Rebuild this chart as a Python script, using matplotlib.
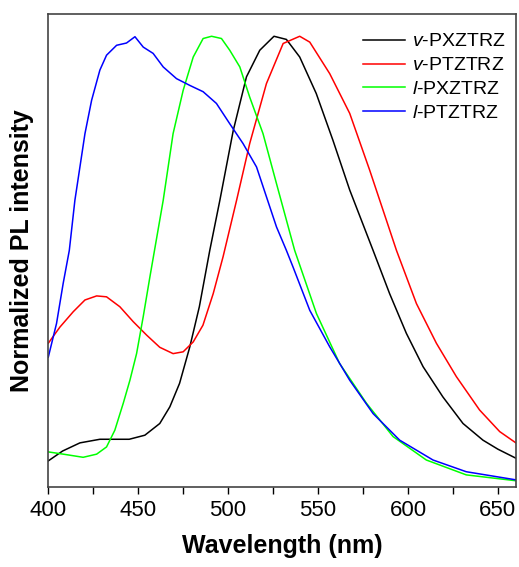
import numpy as np
import matplotlib.pyplot as plt

plt.rcParams['font.family'] = ['Liberation Sans', 'DejaVu Sans']
plt.rcParams['mathtext.fontset'] = 'custom'
plt.rcParams['mathtext.rm'] = 'Liberation Sans'
plt.rcParams['mathtext.it'] = 'Liberation Sans:italic'

# v-PXZTRZ (black)
wl_vpx = [400, 408, 417.6, 428.7, 445, 453.7, 462, 467.6, 473, 478.7, 484, 489.8, 495.4,
          502.8, 510.2, 517.6, 525.5, 532.4, 539.8, 549, 558.3, 567.6, 580.6, 589.8,
          599.1, 608.4, 619.4, 630.6, 641.7, 650, 660]
pl_vpx = [0.058, 0.080, 0.098, 0.106, 0.106, 0.115, 0.141, 0.178, 0.230, 0.311, 0.400, 0.525,
          0.636, 0.790, 0.910, 0.969, 1.000, 0.993, 0.954, 0.873, 0.769, 0.659, 0.525, 0.429,
          0.341, 0.267, 0.200, 0.141, 0.104, 0.084, 0.064]

# v-PTZTRZ (red)
wl_vpt = [400, 406.5, 413.9, 420.4, 426.9, 432.4, 439.8, 447.2, 454.7, 462, 469.4, 475,
          480.6, 486, 491.7, 497.2, 504.7, 512, 521.3, 530.6, 539.8, 545.4, 556.5, 567.6,
          578.7, 588, 593.6, 604.7, 615.8, 626.9, 639.8, 651, 660]
pl_vpt = [0.319, 0.355, 0.389, 0.415, 0.424, 0.422, 0.400, 0.367, 0.337, 0.310, 0.296, 0.300,
          0.322, 0.359, 0.429, 0.511, 0.636, 0.762, 0.895, 0.984, 1.000, 0.987, 0.917, 0.829,
          0.703, 0.592, 0.525, 0.407, 0.319, 0.245, 0.171, 0.123, 0.098]

# l-PXZTRZ (green)
wl_lpx = [400, 408.3, 419.4, 426.9, 432.4, 437, 441.7, 445.4, 449.1, 452.8, 456.5, 463.9,
          469.4, 475, 480.6, 486.1, 490.8, 496.3, 500.9, 506.5, 512, 519.4, 526.9, 537,
          549.1, 562, 576.9, 591.7, 610.2, 632.4, 660]
pl_lpx = [0.078, 0.073, 0.066, 0.073, 0.089, 0.126, 0.186, 0.237, 0.296, 0.378, 0.466, 0.636,
          0.784, 0.880, 0.954, 0.995, 1.000, 0.995, 0.969, 0.932, 0.865, 0.784, 0.673, 0.525,
          0.385, 0.274, 0.186, 0.112, 0.060, 0.027, 0.014]

# l-PTZTRZ (blue)
wl_lpt = [400, 404.6, 408.3, 411.7, 414.8, 417.6, 420.4, 424.1, 428.7, 432.4, 438, 443.5,
          448.2, 452.8, 458.3, 463.9, 471.3, 478.7, 486.1, 493.5, 500.9, 508.3, 515.8,
          521.3, 526.9, 532.4, 536.1, 545.4, 556.5, 567.6, 580.6, 595.4, 613.9, 632.4, 660]
pl_lpt = [0.288, 0.363, 0.452, 0.525, 0.636, 0.710, 0.784, 0.858, 0.925, 0.958, 0.980, 0.985,
          0.999, 0.976, 0.962, 0.932, 0.906, 0.891, 0.877, 0.851, 0.806, 0.762, 0.710,
          0.644, 0.577, 0.525, 0.488, 0.392, 0.311, 0.237, 0.163, 0.104, 0.060, 0.034, 0.016]

labels = [r'$\mathit{v}$-PXZTRZ', r'$\mathit{v}$-PTZTRZ', r'$\mathit{l}$-PXZTRZ', r'$\mathit{l}$-PTZTRZ']

fig = plt.figure(figsize=(5.19, 5.67), dpi=100)
ax = fig.add_axes([0.093, 0.141, 0.901, 0.834])

ax.plot(wl_vpx, pl_vpx, color='black', lw=1.1, label=labels[0])
ax.plot(wl_vpt, pl_vpt, color='#ff0000', lw=1.1, label=labels[1])
ax.plot(wl_lpx, pl_lpx, color='#00ff00', lw=1.1, label=labels[2])
ax.plot(wl_lpt, pl_lpt, color='#0000ff', lw=1.1, label=labels[3])

ax.set_xlim(400, 660)
ax.set_ylim(0, 1.049)
ax.set_xticks([400, 450, 500, 550, 600, 650])
ax.set_xticks(np.arange(425, 660, 50), minor=True)
ax.set_yticks([])
ax.tick_params(axis='x', which='both', direction='out', length=5, width=1, labelsize=16, pad=4)
for s in ax.spines.values():
    s.set_linewidth(1.2)
    s.set_color('#444444')

ax.set_xlabel('Wavelength (nm)', fontsize=18, fontweight='bold', labelpad=10)
ax.set_ylabel('Normalized PL intensity', fontsize=18, fontweight='bold', labelpad=10)

ax.legend(loc='upper left', bbox_to_anchor=(0.699, 0.942), bbox_transform=fig.transFigure,
          frameon=False, fontsize=14, handlelength=2.15, handletextpad=0.4,
          labelspacing=0.32, borderpad=0, borderaxespad=0)

fig.savefig('out.png', dpi=100)
